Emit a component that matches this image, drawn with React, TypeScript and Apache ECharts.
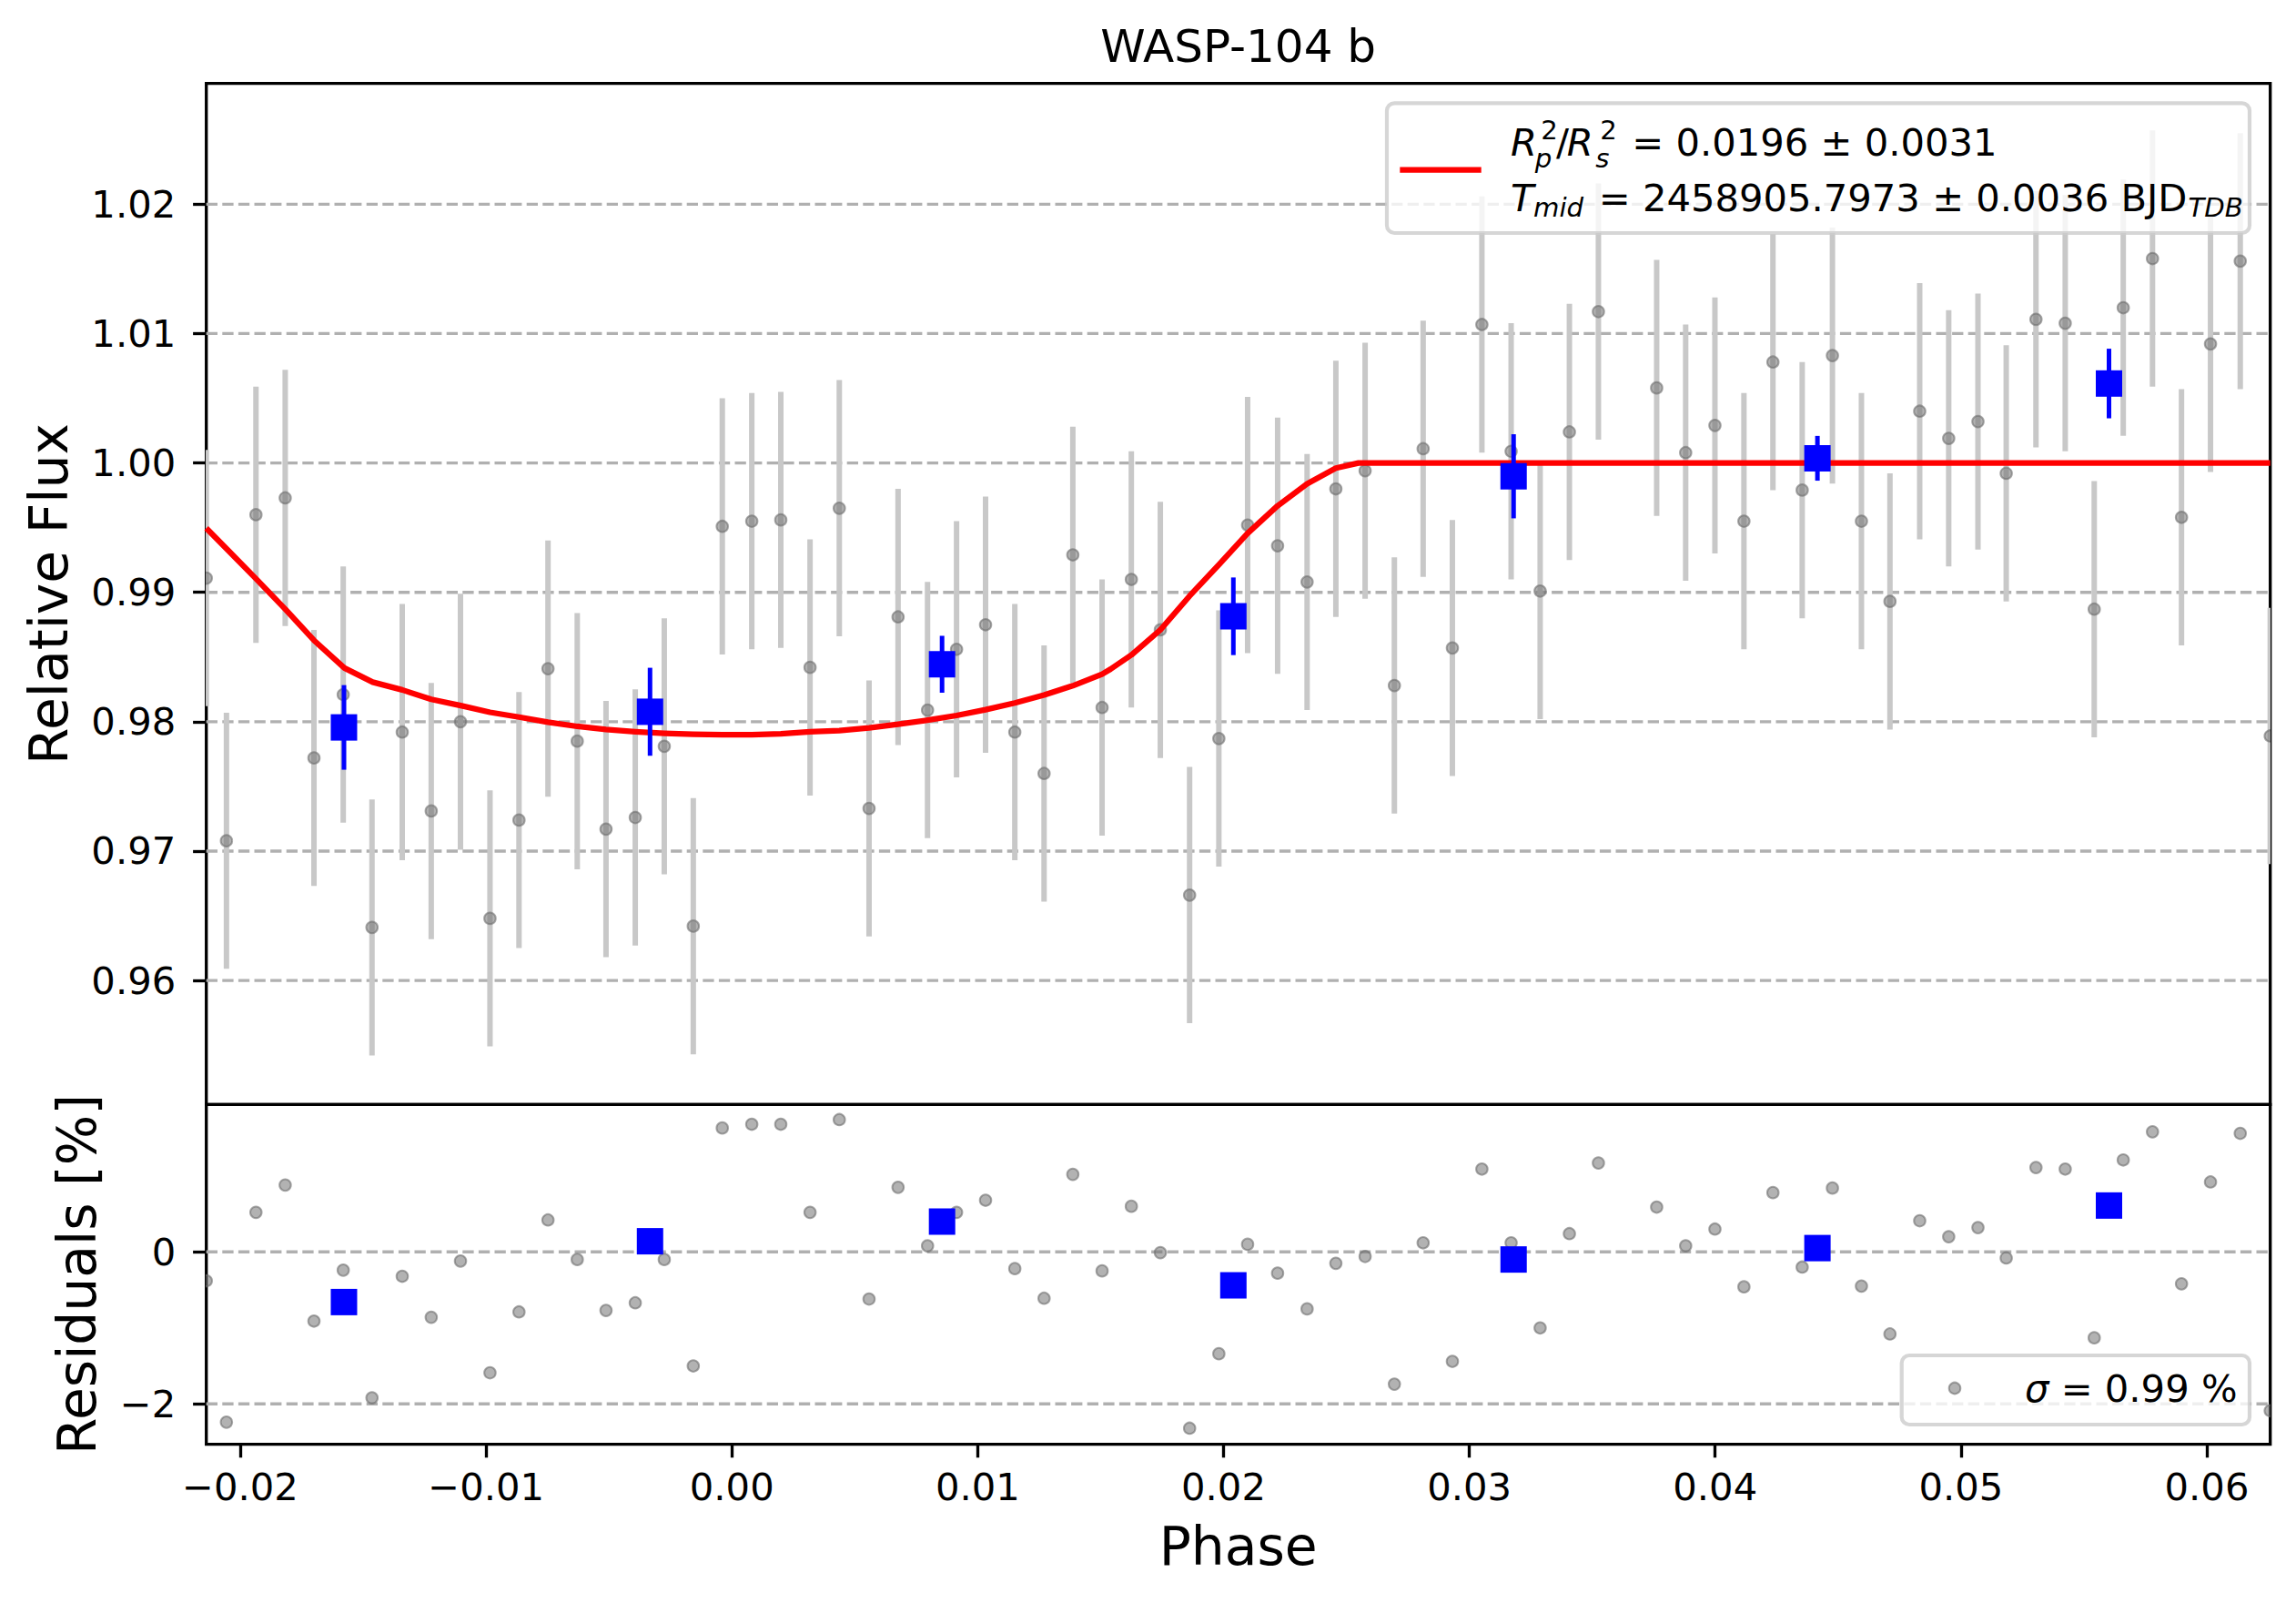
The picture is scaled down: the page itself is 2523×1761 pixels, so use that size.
import { useEffect, useRef } from 'react';
import * as echarts from 'echarts';

// ---- data ----
const PHASE = [
  -0.02138, -0.02056, -0.01936, -0.01817, -0.017, -0.01581, -0.01464, -0.01341, -0.01223, -0.01104,
  -0.00984, -0.00866, -0.00748, -0.00629, -0.00512, -0.00393, -0.00275, -0.00157, -0.00039, 0.00081,
  0.00199, 0.00318, 0.00437, 0.00558, 0.00676, 0.00796, 0.00914, 0.01032, 0.01151, 0.0127,
  0.01387, 0.01506, 0.01625, 0.01743, 0.01862, 0.01981, 0.02098, 0.0222, 0.0234, 0.02457,
  0.02576, 0.02695, 0.02812, 0.02931, 0.03051, 0.0317, 0.03288, 0.03407, 0.03525, 0.03762,
  0.0388, 0.03999, 0.04117, 0.04235, 0.04354, 0.04477, 0.04595, 0.04711, 0.04832, 0.0495,
  0.05069, 0.05184, 0.05305, 0.05424, 0.05542, 0.0566, 0.05779, 0.05897, 0.06015, 0.06136,
  0.06258,
];
const FLUX = [
  0.9911, 0.9708, 0.996, 0.9973, 0.9772, 0.9821, 0.9641, 0.9792, 0.9731, 0.98,
  0.9648, 0.9724, 0.9841, 0.9785, 0.9717, 0.9726, 0.9781, 0.9642, 0.9951, 0.9955,
  0.9956, 0.9842, 0.9965, 0.9733, 0.9881, 0.9809, 0.9856, 0.9875, 0.9792, 0.976,
  0.9929, 0.9811, 0.991, 0.9871, 0.9666, 0.9787, 0.9952, 0.9936, 0.9908, 0.998,
  0.9994, 0.9828, 1.0011, 0.9857, 1.0107, 1.0009, 0.9901, 1.0024, 1.0117, 1.0058,
  1.0008, 1.0029, 0.9955, 1.0078, 0.9979, 1.0083, 0.9955, 0.9893, 1.004, 1.0019,
  1.0032, 0.9992, 1.0111, 1.0108, 0.9887, 1.012, 1.0158, 0.9958, 1.0092, 1.0156,
  0.9789,
];
const FLUX_ERR = 0.0099;
const RESID = [
  -0.38, -2.24, 0.52, 0.88, -0.91, -0.24, -1.92, -0.32, -0.86, -0.12,
  -1.59, -0.79, 0.42, -0.1, -0.77, -0.67, -0.1, -1.5, 1.63, 1.68,
  1.68, 0.52, 1.74, -0.62, 0.85, 0.08, 0.52, 0.68, -0.22, -0.61,
  1.02, -0.25, 0.6, -0.01, -2.32, -1.34, 0.1, -0.28, -0.75, -0.15,
  -0.06, -1.74, 0.12, -1.44, 1.09, 0.12, -1.0, 0.24, 1.17, 0.59,
  0.08, 0.3, -0.46, 0.78, -0.2, 0.84, -0.45, -1.08, 0.41, 0.2,
  0.32, -0.08, 1.11, 1.09, -1.13, 1.21, 1.58, -0.42, 0.92, 1.56,
  -2.09,
];

const BIN_PHASE = [-0.01578, -0.00333, 0.00855, 0.0204, 0.0318, 0.04416, 0.05602];
const BIN_FLUX = [0.97956, 0.98077, 0.98444, 0.98815, 0.99897, 1.00036, 1.00614];
const BIN_ERR = [0.00327, 0.0034, 0.0022, 0.003, 0.00325, 0.00173, 0.00269];
const BIN_RESID = [-0.66, 0.14, 0.4, -0.44, -0.1, 0.05, 0.61];

const MODEL_PHASE = [
  -0.02138, -0.0194, -0.01817, -0.017, -0.01576, -0.01461, -0.01341, -0.01223, -0.01103, -0.00984,
  -0.00866, -0.00748, -0.00629, -0.00512, -0.00393, -0.00275, -0.00157, -0.00039, 0.00081, 0.00199,
  0.00318, 0.00437, 0.00558, 0.00676, 0.00796, 0.00914, 0.01032, 0.01151, 0.0127, 0.01387,
  0.01506, 0.01541, 0.01625, 0.01743, 0.01862, 0.01981, 0.02098, 0.0222, 0.0234, 0.02457,
  0.02549, 0.06258,
];
const MODEL_FLUX = [
  0.99496, 0.99113, 0.98871, 0.98629, 0.98415, 0.98306, 0.98246, 0.98173, 0.98125, 0.98073,
  0.98036, 0.97996, 0.97964, 0.9794, 0.97923, 0.97911, 0.97903, 0.97899, 0.97899, 0.97907,
  0.97923, 0.97931, 0.97952, 0.9798, 0.98012, 0.98048, 0.98093, 0.98145, 0.98206, 0.98278,
  0.98367, 0.98407, 0.98516, 0.9871, 0.98972, 0.99214, 0.99456, 0.99669, 0.99839, 0.9996,
  1.0, 1.0,
];

const PHASE_TICKS = [-0.02, -0.01, 0, 0.01, 0.02, 0.03, 0.04, 0.05, 0.06];
const FLUX_TICKS = [0.96, 0.97, 0.98, 0.99, 1.0, 1.01, 1.02];
const RESID_TICKS = [-2, 0];

const X_MIN = -0.02138;
const X_MAX = 0.06258;
const FLUX_MIN = 0.95042;
const FLUX_MAX = 1.02933;
const RESID_MIN = -2.532;
const RESID_MAX = 1.94;

const TITLE = 'WASP-104 b';
const SIGMA_TEXT = ' = 0.99 %';
const DEPTH_TEXT = '= 0.0196 \u00b1 0.0031';
const TMID_TEXT = '= 2458905.7973 \u00b1 0.0036 BJD';

// ---- layout (px) ----
const PLOT_L = 226.7;
const PLOT_R = 2494.7;
const TOP_T = 91.7;
const MID_Y = 1213.3;
const BOT_B = 1586.7;
const FONT = '"DejaVu Sans", "Liberation Sans", sans-serif';
const FS = 41.7; // 10pt
const FS_SMALL = 29.2;
const FS_LABEL = 58.3; // 14pt
const LW = 3.33;

const GRID_COLOR = '#b0b0b0';
const BAR_GRAY = '#c8c8c8';
const DOT_FILL = 'rgba(115,115,115,0.55)';
const DOT_EDGE = 'rgba(110,110,110,0.6)';
const DOT_R = 6.3;

const minus = (s: string) => s.replace('-', '\u2212');

function measure(text: string, font: string) {
  const ctx = document.createElement('canvas').getContext('2d');
  if (!ctx) return text.length * 20;
  ctx.font = font;
  return ctx.measureText(text).width;
}

export default function App() {
  const ref = useRef<HTMLDivElement | null>(null);

  useEffect(() => {
    if (!ref.current) return;
    const chart = echarts.init(ref.current, undefined, { renderer: 'svg' });

    const grayTop = PHASE.map((p, i) => [p, FLUX[i], FLUX_ERR]);
    const grayRes = PHASE.map((p, i) => [p, RESID[i]]);
    const binTop = BIN_PHASE.map((p, i) => [p, BIN_FLUX[i], BIN_ERR[i]]);
    const binRes = BIN_PHASE.map((p, i) => [p, BIN_RESID[i]]);
    const model = MODEL_PHASE.map((p, i) => [p, MODEL_FLUX[i]]);

    const gridLines = (ticks: number[]) => ticks.map(v => [X_MIN, v, X_MAX]);

    const gridRender = (_p: unknown, api: any) => {
      const a = api.coord([api.value(0), api.value(1)]);
      const b = api.coord([api.value(2), api.value(1)]);
      return {
        type: 'line',
        shape: { x1: a[0], y1: a[1], x2: b[0], y2: b[1] },
        style: { stroke: GRID_COLOR, lineWidth: LW, lineDash: [12.3, 5.3] },
      };
    };
    const dotRender = (_p: unknown, api: any) => {
      const c = api.coord([api.value(0), api.value(1)]);
      return {
        type: 'circle',
        shape: { cx: c[0], cy: c[1], r: DOT_R },
        style: { fill: DOT_FILL, stroke: DOT_EDGE, lineWidth: 2 },
      };
    };
    const errRender = (color: string, width: number) => (_p: unknown, api: any) => {
      const x = api.value(0) as number;
      const y = api.value(1) as number;
      const e = api.value(2) as number;
      const a = api.coord([x, y - e]);
      const b = api.coord([x, y + e]);
      return {
        type: 'line',
        shape: { x1: a[0], y1: a[1], x2: b[0], y2: b[1] },
        style: { stroke: color, lineWidth: width },
      };
    };
    const squareRender = (_p: unknown, api: any) => {
      const c = api.coord([api.value(0), api.value(1)]);
      const s = 29;
      return {
        type: 'rect',
        shape: { x: c[0] - s / 2, y: c[1] - s / 2, width: s, height: s },
        style: { fill: '#0000ff' },
      };
    };

    const axisText = { color: '#000', fontSize: FS, fontFamily: FONT };
    const tickStyle = { show: true, length: 14.6, inside: false, lineStyle: { color: '#000', width: LW } };
    const noLine = { show: false, onZero: false };

    // legend text positions
    const font = (size: number, italic = false) => `${italic ? 'italic ' : ''}${size}px ${FONT}`;
    const tmidX = 1756.7;
    const tdbX = tmidX + measure(TMID_TEXT, font(FS)) + 1;
    const txt = (text: string, x: number, y: number, size: number, italic = false, align = 'left') => ({
      type: 'text',
      x,
      y,
      z: 60,
      silent: true,
      style: {
        text,
        fontSize: size,
        fontFamily: FONT,
        fontStyle: italic ? 'italic' : 'normal',
        fill: '#000',
        align,
        verticalAlign: 'middle',
      },
    });

    chart.setOption({
      animation: false,
      backgroundColor: '#ffffff',
      grid: [
        {
          left: PLOT_L,
          top: TOP_T,
          width: PLOT_R - PLOT_L,
          height: MID_Y - TOP_T,
          show: true,
          borderColor: '#000',
          borderWidth: LW,
          backgroundColor: 'transparent',
          containLabel: false,
          outerBoundsMode: 'none',
        },
        {
          left: PLOT_L,
          top: MID_Y,
          width: PLOT_R - PLOT_L,
          height: BOT_B - MID_Y,
          show: true,
          borderColor: '#000',
          borderWidth: LW,
          backgroundColor: 'transparent',
          containLabel: false,
          outerBoundsMode: 'none',
        },
      ],
      xAxis: [
        {
          type: 'value',
          gridIndex: 0,
          min: X_MIN,
          max: X_MAX,
          axisLine: noLine,
          axisTick: { show: false },
          axisLabel: { show: false },
          splitLine: { show: false },
        },
        {
          type: 'value',
          gridIndex: 1,
          position: 'bottom',
          min: X_MIN,
          max: X_MAX,
          axisLine: noLine,
          axisTick: { ...tickStyle, customValues: PHASE_TICKS },
          axisLabel: {
            ...axisText,
            margin: 26,
            customValues: PHASE_TICKS,
            formatter: (v: number) => minus(v.toFixed(2)),
          },
          splitLine: { show: false },
        },
      ],
      yAxis: [
        {
          type: 'value',
          gridIndex: 0,
          position: 'left',
          min: FLUX_MIN,
          max: FLUX_MAX,
          axisLine: noLine,
          axisTick: { ...tickStyle, customValues: FLUX_TICKS },
          axisLabel: {
            ...axisText,
            margin: 33.5,
            customValues: FLUX_TICKS,
            formatter: (v: number) => v.toFixed(2),
          },
          splitLine: { show: false },
        },
        {
          type: 'value',
          gridIndex: 1,
          position: 'left',
          min: RESID_MIN,
          max: RESID_MAX,
          axisLine: noLine,
          axisTick: { ...tickStyle, customValues: RESID_TICKS },
          axisLabel: {
            ...axisText,
            margin: 33.5,
            customValues: RESID_TICKS,
            formatter: (v: number) => minus(String(Math.round(v))),
          },
          splitLine: { show: false },
        },
      ],
      series: [
        // dashed y gridlines
        {
          type: 'custom', xAxisIndex: 0, yAxisIndex: 0, z: 1, silent: true, clip: true,
          encode: { x: [0, 2], y: 1 }, data: gridLines(FLUX_TICKS), renderItem: gridRender,
        },
        {
          type: 'custom', xAxisIndex: 1, yAxisIndex: 1, z: 1, silent: true, clip: true,
          encode: { x: [0, 2], y: 1 }, data: gridLines(RESID_TICKS), renderItem: gridRender,
        },
        // unbinned error bars + points
        {
          type: 'custom', xAxisIndex: 0, yAxisIndex: 0, z: 2, silent: true, clip: true,
          encode: { x: 0, y: 1 }, data: grayTop, renderItem: errRender(BAR_GRAY, 6),
        },
        {
          type: 'custom', xAxisIndex: 0, yAxisIndex: 0, z: 3, silent: true, clip: true,
          encode: { x: 0, y: 1 }, data: grayTop, renderItem: dotRender,
        },
        // transit model
        {
          type: 'line', xAxisIndex: 0, yAxisIndex: 0, z: 4, silent: true, clip: true,
          data: model, showSymbol: false, symbol: 'none', smooth: false,
          lineStyle: { color: '#ff0000', width: 6.25, join: 'round' },
        },
        // binned
        {
          type: 'custom', xAxisIndex: 0, yAxisIndex: 0, z: 5, silent: true, clip: true,
          encode: { x: 0, y: 1 }, data: binTop, renderItem: errRender('#0000ff', 5),
        },
        {
          type: 'custom', xAxisIndex: 0, yAxisIndex: 0, z: 6, silent: true, clip: true,
          encode: { x: 0, y: 1 }, data: binTop, renderItem: squareRender,
        },
        // residuals
        {
          type: 'custom', xAxisIndex: 1, yAxisIndex: 1, z: 3, silent: true, clip: true,
          encode: { x: 0, y: 1 }, data: grayRes, renderItem: dotRender,
        },
        {
          type: 'custom', xAxisIndex: 1, yAxisIndex: 1, z: 6, silent: true, clip: true,
          encode: { x: 0, y: 1 }, data: binRes, renderItem: squareRender,
        },
      ],
      graphic: [
        txt(TITLE, (PLOT_L + PLOT_R) / 2, 51.3, 50, false, 'center'),
        {
          ...txt('Relative Flux', 53.8, (TOP_T + MID_Y) / 2, FS_LABEL, false, 'center'),
          rotation: Math.PI / 2,
        },
        {
          ...txt('Residuals [%]', 85, (MID_Y + BOT_B) / 2, FS_LABEL, false, 'center'),
          rotation: Math.PI / 2,
        },
        txt('Phase', (PLOT_L + PLOT_R) / 2, 1699.3, FS_LABEL, false, 'center'),
        // legend 1
        {
          type: 'rect',
          z: 50,
          silent: true,
          shape: { x: 1524, y: 113.3, width: 948, height: 142.7, r: 8.3 },
          style: { fill: 'rgba(255,255,255,0.8)', stroke: 'rgba(204,204,204,0.8)', lineWidth: 4.17 },
        },
        {
          type: 'line',
          z: 60,
          silent: true,
          shape: { x1: 1538.3, y1: 186.7, x2: 1627.7, y2: 186.7 },
          style: { stroke: '#ff0000', lineWidth: 6.25 },
        },
        txt('R', 1660, 156.3, FS, true),
        txt('2', 1693.3, 143, FS_SMALL),
        txt('p', 1686.7, 173.5, FS_SMALL, true),
        txt('/', 1710, 156.3, FS),
        txt('R', 1721.7, 156.3, FS, true),
        txt('2', 1758.3, 143, FS_SMALL),
        txt('s', 1753.3, 173.5, FS_SMALL, true),
        txt(DEPTH_TEXT, 1793.3, 156.3, FS),
        txt('T', 1660, 217.3, FS, true),
        txt('mid', 1685, 227.9, FS_SMALL, true),
        txt(TMID_TEXT, tmidX, 217.3, FS),
        txt('TDB', tdbX, 227.9, FS_SMALL, true),
        // legend 2
        {
          type: 'rect',
          z: 50,
          silent: true,
          shape: { x: 2089.7, y: 1489, width: 382.3, height: 76, r: 8.3 },
          style: { fill: 'rgba(255,255,255,0.8)', stroke: 'rgba(204,204,204,0.8)', lineWidth: 4.17 },
        },
        {
          type: 'circle',
          z: 60,
          silent: true,
          shape: { cx: 2148, cy: 1525, r: DOT_R },
          style: { fill: DOT_FILL, stroke: DOT_EDGE, lineWidth: 2 },
        },
        {
          type: 'text',
          x: 2225,
          y: 1525.6,
          z: 60,
          silent: true,
          style: {
            text: '{i|\u03c3}' + SIGMA_TEXT,
            fontSize: FS,
            fontFamily: FONT,
            fill: '#000',
            align: 'left',
            verticalAlign: 'middle',
            rich: { i: { fontSize: FS, fontFamily: FONT, fontStyle: 'italic', fill: '#000' } },
          },
        },
      ],
    });

    return () => {
      chart.dispose();
    };
  }, []);

  return (
    <div
      ref={ref}
      style={{ position: 'fixed', left: 0, top: 0, width: 2523, height: 1761, background: '#fff' }}
    />
  );
}
